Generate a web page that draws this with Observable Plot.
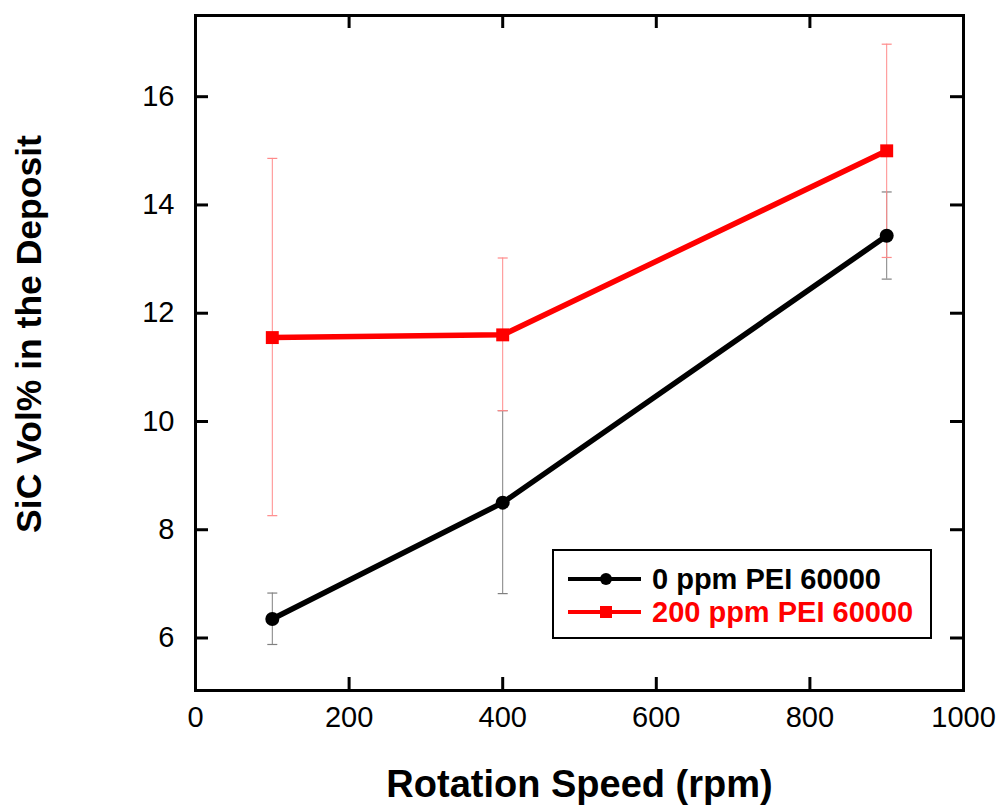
<!DOCTYPE html>
<html>
<head>
<meta charset="utf-8">
<script src="https://cdn.jsdelivr.net/npm/d3@7"></script>
<script src="https://cdn.jsdelivr.net/npm/@observablehq/plot@0.6"></script>
<style>
  html, body { margin: 0; padding: 0; background: #fff; }
  #chart { width: 997px; height: 810px; }
</style>
</head>
<body>
<div id="chart"></div>
<script>
// ---- data ----
const speeds = [100, 400, 900];
const seriesNames = ["0 ppm PEI 60000", "200 ppm PEI 60000"];
const seriesColors = ["#000000", "#ff0000"];
const errColors = ["#808080", "#ff8a8a"];
const seriesSymbols = ["circle", "square"];
const mean0 = [6.35, 8.50, 13.43];
const lo0 = [5.88, 6.82, 12.63];
const hi0 = [6.83, 10.20, 14.24];
const mean200 = [11.55, 11.60, 15.00];
const lo200 = [8.26, 10.20, 13.03];
const hi200 = [14.86, 13.02, 16.97];
const xTicks = [0, 200, 400, 600, 800, 1000];
const yTicks = [6, 8, 10, 12, 14, 16];
const xTitle = "Rotation Speed (rpm)";
const yTitle = "SiC Vol% in the Deposit";

const rows = [];
[[mean0, lo0, hi0], [mean200, lo200, hi200]].forEach(([m, lo, hi], s) => {
  speeds.forEach((x, i) => rows.push({series: s, x, y: m[i], lo: lo[i], hi: hi[i]}));
});
const s0 = rows.filter(d => d.series === 0);
const s1 = rows.filter(d => d.series === 1);

const W = 997, H = 810;
const mL = 195, mR = 34, mT = 15, mB = 120;
const innerW = W - mL - mR, innerH = H - mT - mB;
const tickLen = 13;

const capSymbol = {
  draw(context) { context.moveTo(-5, 0); context.lineTo(5, 0); }
};

const font = "'Liberation Sans', Arial, Helvetica, sans-serif";

function errMarks(data, color) {
  return [
    Plot.ruleX(data, {x: "x", y1: "lo", y2: "hi", stroke: color, strokeWidth: 1}),
    Plot.dot(data, {x: "x", y: "lo", symbol: capSymbol, stroke: color, fill: "none", strokeWidth: 1.2, r: 3}),
    Plot.dot(data, {x: "x", y: "hi", symbol: capSymbol, stroke: color, fill: "none", strokeWidth: 1.2, r: 3})
  ];
}

const chart = Plot.plot({
  width: W,
  height: H,
  marginLeft: mL,
  marginRight: mR,
  marginTop: mT,
  marginBottom: mB,
  style: {fontFamily: font, background: "#fff", color: "#000"},
  x: {domain: [0, 1000]},
  y: {domain: [5.03, 17.5]},
  marks: [
    // error bars
    ...errMarks(s0, errColors[0]),
    ...errMarks(s1, errColors[1]),
    // lines
    Plot.line(s0, {x: "x", y: "y", stroke: seriesColors[0], strokeWidth: 5.5}),
    Plot.dot(s0, {x: "x", y: "y", fill: seriesColors[0], r: 7, symbol: seriesSymbols[0]}),
    Plot.line(s1, {x: "x", y: "y", stroke: seriesColors[1], strokeWidth: 5.5}),
    Plot.dot(s1, {x: "x", y: "y", fill: seriesColors[1], r: 7.3, symbol: seriesSymbols[1]}),
    // inward ticks
    Plot.ruleX(xTicks.slice(1, -1), {stroke: "#000", strokeWidth: 3, insetTop: innerH - tickLen}),
    Plot.ruleX(xTicks.slice(1, -1), {stroke: "#000", strokeWidth: 3, insetBottom: innerH - tickLen}),
    Plot.ruleY(yTicks, {stroke: "#000", strokeWidth: 3, insetRight: innerW - tickLen}),
    Plot.ruleY(yTicks, {stroke: "#000", strokeWidth: 3, insetLeft: innerW - tickLen}),
    Plot.frame({stroke: "#000", strokeWidth: 3}),
    // axes labels
    Plot.axisX({ticks: xTicks, tickSize: 0, tickPadding: 16, fontSize: 29, label: null, tickFormat: d3.format("d")}),
    Plot.axisY({ticks: yTicks, tickSize: 0, tickPadding: 21, fontSize: 29, label: null, tickFormat: d3.format("d")}),
    // titles
    Plot.text([xTitle], {frameAnchor: "bottom", dy: 106, fontSize: 38, fontWeight: "bold", fill: "#000"}),
    Plot.text([yTitle], {frameAnchor: "left", textAnchor: "middle", lineAnchor: "middle", dx: -166, dy: -19, rotate: -90, fontSize: 35.5, fontWeight: "bold", fill: "#000"})
  ]
});

document.getElementById("chart").appendChild(chart);

// ---- legend (inside plot area) ----
const svg = d3.select(chart);
const lg = svg.append("g").attr("font-family", font).attr("text-anchor", "start");
const bx = 553, by = 550, bw = 378, bh = 88;
lg.append("rect").attr("x", bx).attr("y", by).attr("width", bw).attr("height", bh)
  .attr("fill", "#fff").attr("stroke", "#000").attr("stroke-width", 2);
seriesNames.forEach((name, i) => {
  const cy = 579 + i * 33;
  lg.append("line").attr("x1", 568).attr("x2", 641).attr("y1", cy).attr("y2", cy)
    .attr("stroke", seriesColors[i]).attr("stroke-width", 4);
  if (seriesSymbols[i] === "circle") {
    lg.append("circle").attr("cx", 606).attr("cy", cy).attr("r", 6).attr("fill", seriesColors[i]);
  } else {
    lg.append("rect").attr("x", 600).attr("y", cy - 6).attr("width", 12).attr("height", 12).attr("fill", seriesColors[i]);
  }
  lg.append("text").attr("x", 652).attr("y", cy).attr("dy", "0.36em").attr("text-anchor", "start")
    .attr("font-size", 29).attr("font-weight", "bold").attr("fill", seriesColors[i]).text(name);
});
</script>
</body>
</html>
